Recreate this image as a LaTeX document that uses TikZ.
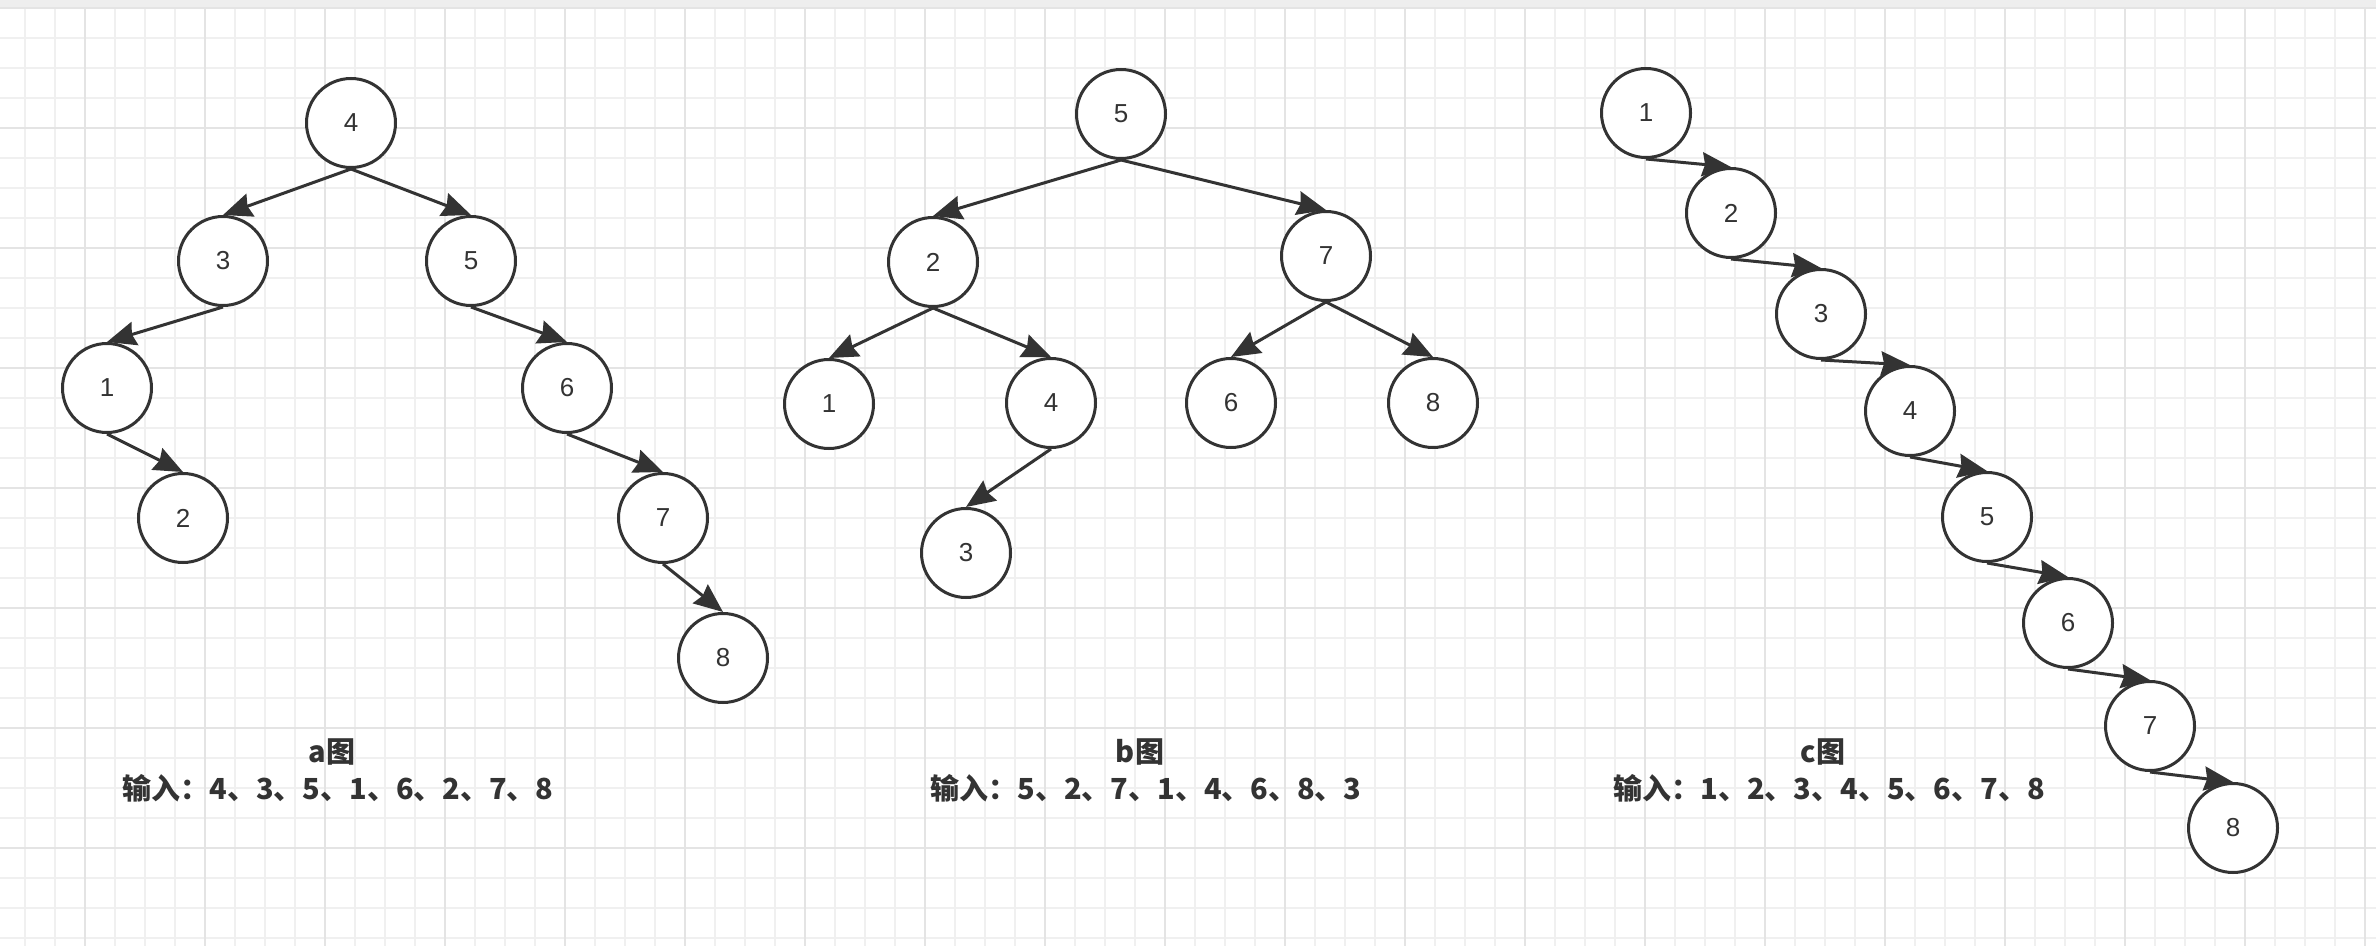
\documentclass[tikz,border=0pt]{standalone}
\usepackage{fontspec}
\setmainfont{Liberation Sans}
\newfontfamily\cjk{Noto Sans CJK SC}
\usetikzlibrary{arrows.meta}
\definecolor{ink}{RGB}{51,51,51}
\definecolor{gridminor}{RGB}{240,240,240}
\definecolor{gridmajor}{RGB}{228,228,228}
\definecolor{topband}{RGB}{238,238,238}
\tikzset{
  bnode/.style={circle,draw=ink,fill=white,line width=1.5pt,minimum size=44.5pt,inner sep=0pt,
    text=ink,font=\fontsize{13pt}{15pt}\selectfont},
  edge/.style={draw=ink,line width=1.5pt,-{Stealth[length=14.5pt,width=12pt,inset=1.5pt]}},
  captitle/.style={anchor=base,text=ink,font=\cjk\bfseries\fontsize{14.5pt}{17pt}\selectfont,inner sep=0pt},
  capline/.style={anchor=base,text=ink,font=\cjk\bfseries\fontsize{14.5pt}{17pt}\selectfont,inner sep=0pt},
}
\begin{document}
\begin{tikzpicture}[x=0.5pt,y=-0.5pt]
\useasboundingbox (0,0) rectangle (2376,946);
\fill[white] (0,0) rectangle (2376,946);
% grid
\foreach \k in {0,...,78} { \draw[gridminor,line width=0.75pt] (25+30*\k,8) -- (25+30*\k,946); }
\foreach \k in {0,...,31} { \draw[gridminor,line width=0.75pt] (0,8+30*\k) -- (2376,8+30*\k); }
\foreach \k in {0,...,19} { \draw[gridmajor,line width=1pt] (85+120*\k,8) -- (85+120*\k,946); }
\foreach \k in {0,...,7} { \draw[gridmajor,line width=1pt] (0,8+120*\k) -- (2376,8+120*\k); }
\fill[topband] (0,0) rectangle (2376,7);

% tree a
\node[bnode] (a4) at (351,123) {4};
\node[bnode] (a3) at (223,261) {3};
\node[bnode] (a5) at (471,261) {5};
\node[bnode] (a1) at (107,388) {1};
\node[bnode] (a2) at (183,518) {2};
\node[bnode] (a6) at (567,388) {6};
\node[bnode] (a7) at (663,518) {7};
\node[bnode] (a8) at (723,658) {8};
\draw[edge] (a4.south) -- (a3.north);
\draw[edge] (a4.south) -- (a5.north);
\draw[edge] (a3.south) -- (a1.north);
\draw[edge] (a1.south) -- (a2.north);
\draw[edge] (a5.south) -- (a6.north);
\draw[edge] (a6.south) -- (a7.north);
\draw[edge] (a7.south) -- (a8.north);

% tree b
\node[bnode] (b5) at (1121,114) {5};
\node[bnode] (b2) at (933,262) {2};
\node[bnode] (b7) at (1326,256) {7};
\node[bnode] (b1) at (829,404) {1};
\node[bnode] (b4) at (1051,403) {4};
\node[bnode] (b6) at (1231,403) {6};
\node[bnode] (b8) at (1433,403) {8};
\node[bnode] (b3) at (966,553) {3};
\draw[edge] (b5.south) -- (b2.north);
\draw[edge] (b5.south) -- (b7.north);
\draw[edge] (b2.south) -- (b1.north);
\draw[edge] (b2.south) -- (b4.north);
\draw[edge] (b4.south) -- (b3.north);
\draw[edge] (b7.south) -- (b6.north);
\draw[edge] (b7.south) -- (b8.north);

% tree c
\node[bnode] (c1) at (1646,113) {1};
\node[bnode] (c2) at (1731,213) {2};
\node[bnode] (c3) at (1821,314) {3};
\node[bnode] (c4) at (1910,411) {4};
\node[bnode] (c5) at (1987,517) {5};
\node[bnode] (c6) at (2068,623) {6};
\node[bnode] (c7) at (2150,726) {7};
\node[bnode] (c8) at (2233,828) {8};
\draw[edge] (c1.south) -- (c2.north);
\draw[edge] (c2.south) -- (c3.north);
\draw[edge] (c3.south) -- (c4.north);
\draw[edge] (c4.south) -- (c5.north);
\draw[edge] (c5.south) -- (c6.north);
\draw[edge] (c6.south) -- (c7.north);
\draw[edge] (c7.south) -- (c8.north);

% captions
\node[captitle] (ta) at (332,762) {a图};
\node[capline] (la) at (338,799) {输入：4、3、5、1、6、2、7、8};
\node[captitle] (tb) at (1140,762) {b图};
\node[capline] (lb) at (1146,799) {输入：5、2、7、1、4、6、8、3};
\node[captitle] (tc) at (1823,762) {c图};
\node[capline] (lc) at (1829,799) {输入：1、2、3、4、5、6、7、8};
\end{tikzpicture}
\end{document}
